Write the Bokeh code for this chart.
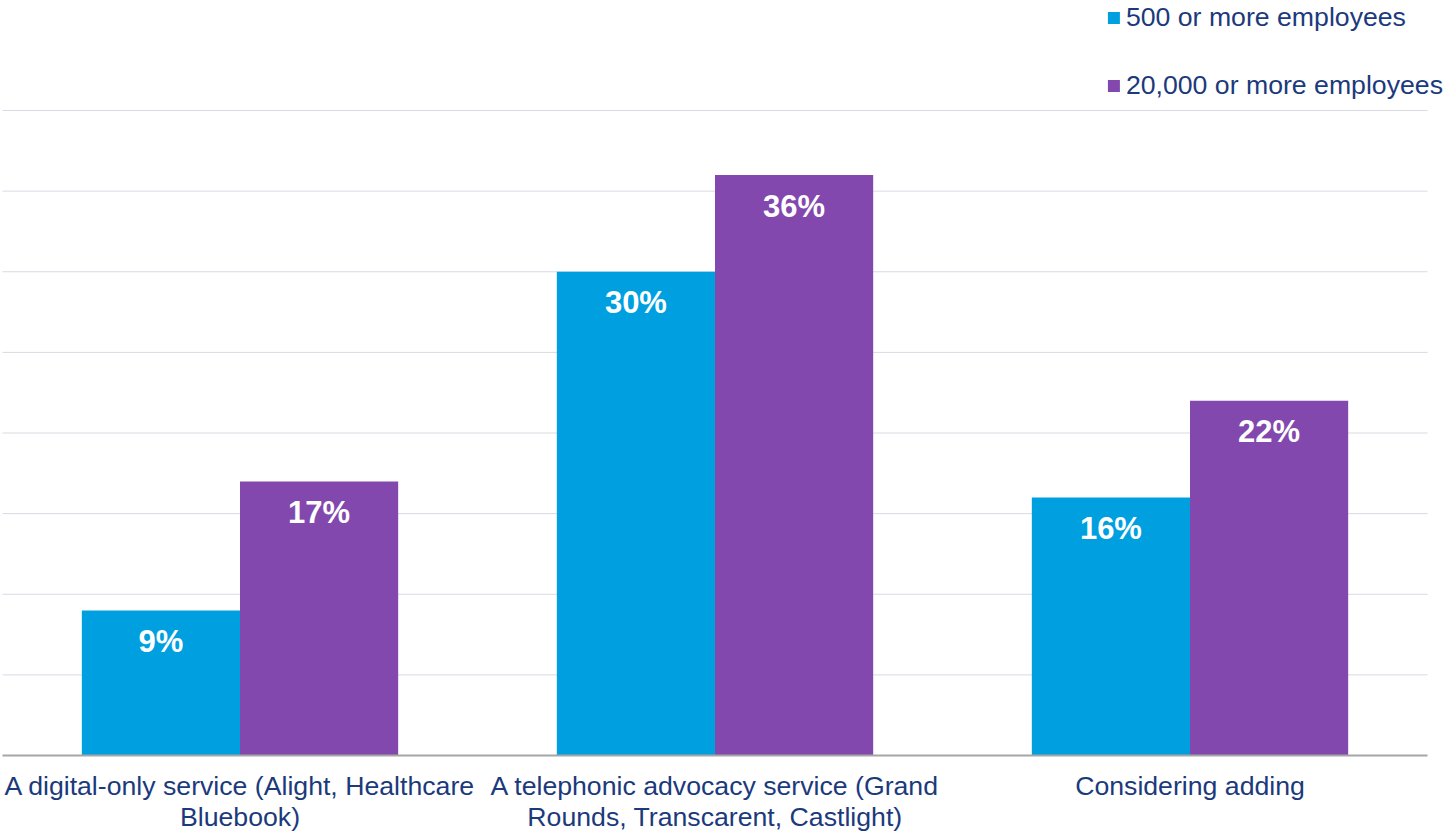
from bokeh.plotting import figure
from bokeh.models import Legend, LegendItem, ColumnDataSource, Range1d
from bokeh.embed import file_html
from bokeh.resources import INLINE
from bokeh.core.properties import value

categories = ["A digital-only service (Alight, Healthcare Bluebook)",
              "A telephonic advocacy service (Grand Rounds, Transcarent, Castlight)",
              "Considering adding"]
cat_labels = ["A digital-only service (Alight, Healthcare\nBluebook)",
              "A telephonic advocacy service (Grand\nRounds, Transcarent, Castlight)",
              "Considering adding"]
series = ["500 or more employees", "20,000 or more employees"]
emp500 = [9, 30, 16]
emp20k = [17, 36, 22]
y_ticks = [0, 5, 10, 15, 20, 25, 30, 35, 40]

BLUE = "#009FDF"
PURPLE = "#8348AD"
NAVY = "#1B3A7C"
GRID = "#D9D9E3"
BASE = "#A6A6A6"
FONT = "Liberation Sans"

W, H = 1445, 831
n = len(categories)
centers = [i + 0.5 for i in range(n)]
bw = 0.333

src = ColumnDataSource(dict(
    xa=[c - bw / 2 for c in centers], xb=[c + bw / 2 for c in centers],
    xc=centers, a=emp500, b=emp20k, cat=cat_labels,
    la=[f"{v}%" for v in emp500], lb=[f"{v}%" for v in emp20k],
))

# pixel geometry of the reference: category band 475px, zero line at y=755, 16.125px per %
px_cat = 475.0
px_pct = 16.125
y0_px = 755
x_range = Range1d(-2 / px_cat, (W - 2) / px_cat)
y_range = Range1d(-(H - y0_px) / px_pct, y0_px / px_pct)

p = figure(x_range=x_range, y_range=y_range, width=W, height=H,
           output_backend="svg", toolbar_location=None,
           min_border=0, min_border_left=0, min_border_right=0,
           min_border_top=0, min_border_bottom=0)
p.axis.visible = False
p.grid.visible = False
p.outline_line_color = None

# horizontal gridlines over the category bands
gt = y_ticks[1:]
p.segment(x0=[0] * len(gt), x1=[n] * len(gt), y0=gt, y1=gt, line_color=GRID, line_width=1)

r1 = p.vbar(x="xa", top="a", width=bw, source=src, fill_color=BLUE, line_color=None)
r2 = p.vbar(x="xb", top="b", width=bw, source=src, fill_color=PURPLE, line_color=None)

# baseline
p.segment(x0=[0], x1=[n], y0=[y_ticks[0]], y1=[y_ticks[0]], line_color=BASE, line_width=2)

for col, top, xcol in (("la", "a", "xa"), ("lb", "b", "xb")):
    p.text(x=xcol, y=top, text=col, source=src, text_color="white",
           text_font=value(FONT), text_font_size="31px", text_font_style="bold",
           text_align="center", text_baseline="middle", y_offset=31)

# category labels
p.text(x="xc", y=0, text="cat", source=src, text_color=NAVY, text_font=value(FONT),
       text_font_size="26.67px", text_align="center", text_baseline="top",
       y_offset=15, text_line_height=1.04)

legend = Legend(items=[LegendItem(label=series[0], renderers=[r1]),
                       LegendItem(label=series[1], renderers=[r2])],
                location="top_right", orientation="vertical",
                label_text_font=FONT, label_text_font_size="26.67px", label_text_color=NAVY,
                glyph_width=15, glyph_height=15, label_standoff=5, spacing=37,
                padding=0, margin=2, border_line_color=None, background_fill_alpha=0)
p.add_layout(legend, "center")

open("out.html", "w").write(file_html(p, INLINE))
